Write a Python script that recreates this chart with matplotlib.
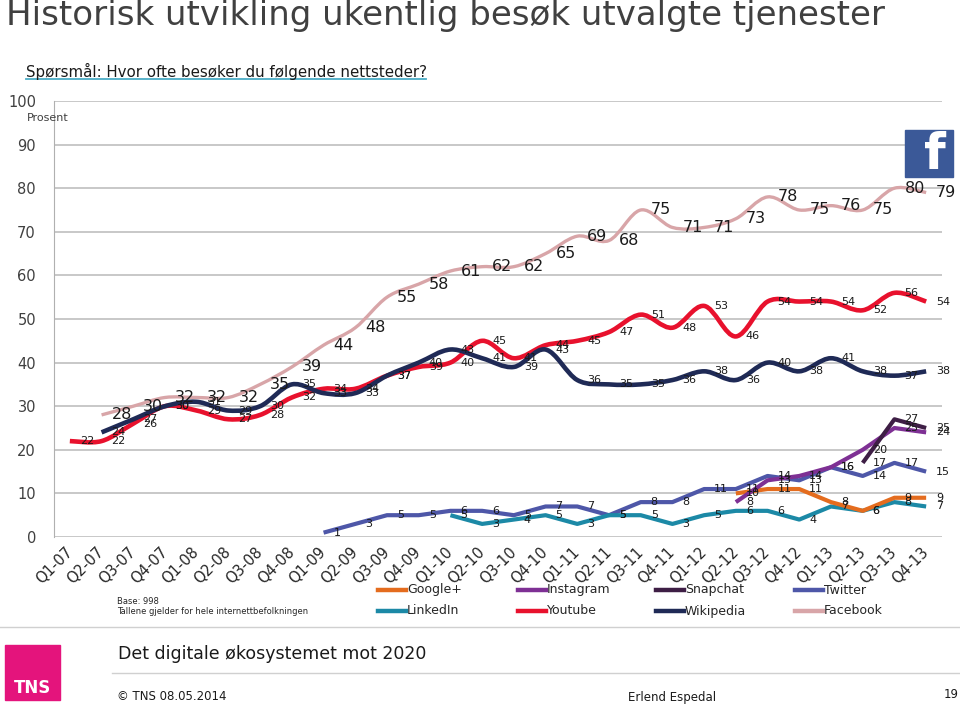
import matplotlib
matplotlib.use('Agg')
import matplotlib.pyplot as plt
from matplotlib.path import Path
from matplotlib.patches import PathPatch, Rectangle
from matplotlib.lines import Line2D

plt.rcParams['font.family'] = ['DejaVu Sans']

quarters = ['Q1-07', 'Q2-07', 'Q3-07', 'Q4-07', 'Q1-08', 'Q2-08', 'Q3-08', 'Q4-08',
            'Q1-09', 'Q2-09', 'Q3-09', 'Q4-09', 'Q1-10', 'Q2-10', 'Q3-10', 'Q4-10',
            'Q1-11', 'Q2-11', 'Q3-11', 'Q4-11', 'Q1-12', 'Q2-12', 'Q3-12', 'Q4-12',
            'Q1-13', 'Q2-13', 'Q3-13', 'Q4-13']

N = None
facebook = [N, 28, 30, 32, 32, 32, 35, 39, 44, 48, 55, 58, 61, 62, 62, 65,
            69, 68, 75, 71, 71, 73, 78, 75, 76, 75, 80, 79]
youtube = [22, 22, 26, 30, 29, 27, 28, 32, 34, 34, 37, 39, 40, 45, 41, 44,
           45, 47, 51, 48, 53, 46, 54, 54, 54, 52, 56, 54]
wikipedia = [N, 24, 27, 30, 31, 29, 30, 35, 33, 33, 37, 40, 43, 41, 39, 43,
             36, 35, 35, 36, 38, 36, 40, 38, 41, 38, 37, 38]
twitter = [N, N, N, N, N, N, N, N, 1, 3, 5, 5, 6, 6, 5, 7,
           7, 5, 8, 8, 11, 11, 14, 13, 16, 14, 17, 15]
linkedin = [N, N, N, N, N, N, N, N, N, N, N, N, 5, 3, 4, 5,
            3, 5, 5, 3, 5, 6, 6, 4, 7, 6, 8, 7]
googleplus = [N] * 21 + [10, 11, 11, 8, 6, 9, 9]
instagram = [N] * 21 + [8, 13, 14, 16, 20, 25, 24]
snapchat = [N] * 25 + [17, 27, 25]

series_names = ['Google+', 'Instagram', 'Snapchat', 'Twitter',
                'LinkedIn', 'Youtube', 'Wikipedia', 'Facebook']
series_colors = ['#E46C1E', '#7E3094', '#3E1E45', '#4E57A8',
                 '#1C89A6', '#E8112D', '#1F2A56', '#D8A5A8']
col = dict(zip(series_names, series_colors))

W, H = 960, 705
def fx(x):
    return x / W
def fy(y):
    return 1 - y / H

fig = plt.figure(figsize=(9.6, 7.05), dpi=100)
ax = fig.add_axes([fx(54), fy(537), (942 - 54) / W, (537 - 101) / H])
ax.set_xlim(-0.5, 27.5)
ax.set_ylim(0, 100)

ax.set_yticks(range(0, 101, 10))
ax.yaxis.grid(True, color='#BFBFBF', lw=1.2)
ax.set_axisbelow(True)
for s in ['top', 'right', 'bottom']:
    ax.spines[s].set_visible(False)
ax.spines['left'].set_color('#B0B0B0')
ax.tick_params(axis='y', length=0, pad=13, labelsize=10.5, labelcolor='#404040')
ax.tick_params(axis='x', length=0, pad=9, labelsize=10.5, labelcolor='#262626')
ax.set_xticks(range(len(quarters)))
ax.set_xticklabels(quarters, rotation=45, ha='right', va='center',
                   rotation_mode='anchor')


def pts_of(vals):
    return [(i, v) for i, v in enumerate(vals) if v is not None]


def smooth_path(pts):
    verts = [pts[0]]
    codes = [Path.MOVETO]
    n = len(pts)
    for i in range(n - 1):
        p0 = pts[i - 1] if i > 0 else pts[i]
        p1 = pts[i]
        p2 = pts[i + 1]
        p3 = pts[i + 2] if i + 2 < n else pts[i + 1]
        c1 = (p1[0] + (p2[0] - p0[0]) / 6, p1[1] + (p2[1] - p0[1]) / 6)
        c2 = (p2[0] - (p3[0] - p1[0]) / 6, p2[1] - (p3[1] - p1[1]) / 6)
        verts += [c1, c2, p2]
        codes += [Path.CURVE4] * 3
    return Path(verts, codes)


smooth_series = [('Facebook', facebook, 2.4), ('Youtube', youtube, 3.3),
                 ('Wikipedia', wikipedia, 3.3)]
for name, vals, lw in smooth_series:
    p = pts_of(vals)
    patch = PathPatch(smooth_path(p), fill=False, edgecolor=col[name], lw=lw,
                      capstyle='butt', joinstyle='round', zorder=3)
    ax.add_patch(patch)

straight_series = [('Twitter', twitter), ('LinkedIn', linkedin),
                   ('Google+', googleplus), ('Instagram', instagram),
                   ('Snapchat', snapchat)]
for name, vals in straight_series:
    p = pts_of(vals)
    ax.plot([a for a, b in p], [b for a, b in p], color=col[name], lw=3.0,
            solid_joinstyle='round', solid_capstyle='butt', zorder=3)

label_sets = [(facebook, 11.5), (youtube, 8), (wikipedia, 8), (twitter, 8),
              (linkedin, 8), (googleplus, 8), (instagram, 8), (snapchat, 8)]
for vals, fs in label_sets:
    for i, v in pts_of(vals):
        ax.annotate(str(v), (i, v), xytext=(10, 0), textcoords='offset pixels',
                    ha='left', va='center', fontsize=fs, color='#1a1a1a',
                    zorder=5)

# Titles and texts
fig.text(fx(6), fy(16), 'Historisk utvikling ukentlig besøk utvalgte tjenester',
         fontsize=24.5, color='#404040', va='center', ha='left')
fig.text(fx(26), fy(71), 'Spørsmål: Hvor ofte besøker du følgende nettsteder?',
         fontsize=10.8, color='#1a1a1a', va='center', ha='left')
fig.add_artist(Line2D([fx(26), fx(426)], [fy(79), fy(79)], color='#4BACC6', lw=1.3))
fig.text(fx(27), fy(118), 'Prosent', fontsize=8, color='#404040', va='center', ha='left')

# Facebook logo
fig.add_artist(Rectangle((fx(905), fy(177)), 48 / W, 47 / H, color='#3B5998'))
fig.text(fx(946), fy(179), 'f', fontsize=36, color='white', fontweight='bold',
         ha='right', va='bottom')

# Legend (manual layout)
legend_x = [378, 518, 656, 795]
legend_y = [590, 611]
for k, name in enumerate(series_names):
    x0 = legend_x[k % 4]
    y0 = legend_y[k // 4]
    fig.add_artist(Line2D([fx(x0), fx(x0 + 28)], [fy(y0), fy(y0)],
                          color=col[name], lw=3.2))
    fig.text(fx(x0 + 29), fy(y0), name, fontsize=9, color='#262626',
             va='center', ha='left')

fig.text(fx(117), fy(601), 'Base: 998', fontsize=6, color='#262626', va='center')
fig.text(fx(117), fy(611), 'Tallene gjelder for hele internettbefolkningen',
         fontsize=6, color='#262626', va='center')

# footer
fig.add_artist(Line2D([0, 1], [fy(627), fy(627)], color='#D0D0D0', lw=1))
fig.add_artist(Line2D([fx(112), 1], [fy(673), fy(673)], color='#D0D0D0', lw=1))
fig.text(fx(118), fy(654), 'Det digitale økosystemet mot 2020', fontsize=12.5,
         color='#1a1a1a', va='center')
fig.add_artist(Rectangle((fx(5), fy(700)), 55 / W, 55 / H, color='#E4147C'))
fig.text(fx(32), fy(688), 'TNS', fontsize=12, color='white', fontweight='bold',
         ha='center', va='center')
fig.text(fx(117), fy(697), '© TNS 08.05.2014', fontsize=8.5, color='#1a1a1a', va='center')
fig.text(fx(628), fy(697), 'Erlend Espedal', fontsize=8.5, color='#1a1a1a', va='center')
fig.text(fx(944), fy(695), '19', fontsize=8.5, color='#1a1a1a', va='center')

fig.savefig('out.png', dpi=100)
